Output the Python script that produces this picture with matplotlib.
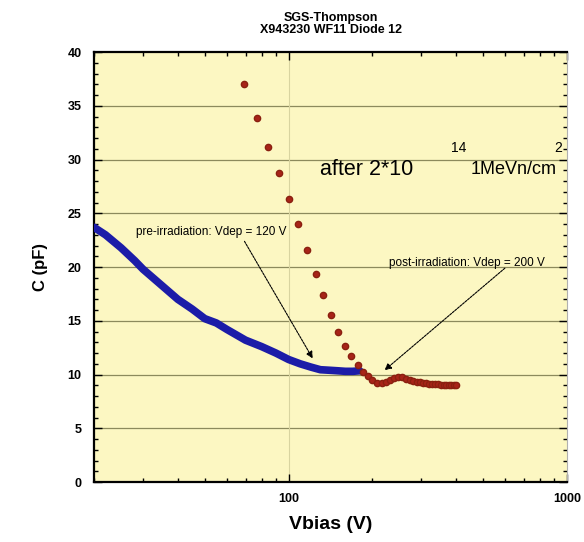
import matplotlib.pyplot as plt
from matplotlib.ticker import MultipleLocator, LogLocator, FixedLocator, NullFormatter

# pre-irradiation (blue), dense scan
pre_v = [20, 22, 25, 28, 30, 35, 40, 45, 50, 55, 60, 70, 80, 90, 100,
         110, 120, 130, 140, 150, 160, 170, 180]
pre_c = [23.7, 23.0, 21.8, 20.6, 19.8, 18.3, 17.0, 16.1, 15.2, 14.8, 14.2,
         13.2, 12.6, 12.0, 11.4, 11.0, 10.7, 10.45, 10.4, 10.35, 10.3, 10.3, 10.35]

# post-irradiation (red), 8 V steps
post_v = [69, 77, 84, 92, 100, 108, 116, 125, 133, 142, 151, 159, 168, 177, 185,
          193, 200, 208, 216, 224, 232, 240, 248, 256, 264, 272, 280, 288, 296,
          304, 312, 320, 328, 336, 344, 352, 360, 368, 376, 384, 392, 400]
post_c = [37.0, 33.9, 31.2, 28.8, 26.3, 24.0, 21.6, 19.4, 17.4, 15.5, 14.0, 12.7,
          11.7, 10.9, 10.2, 9.9, 9.5, 9.25, 9.2, 9.35, 9.5, 9.65, 9.75, 9.75, 9.6,
          9.5, 9.4, 9.35, 9.3, 9.25, 9.2, 9.15, 9.15, 9.1, 9.1, 9.05, 9.05, 9.0,
          9.0, 9.0, 9.0, 9.0]

y_ticks = [0, 5, 10, 15, 20, 25, 30, 35, 40]
x_labels = [100, 1000]

plt.rcParams['font.family'] = ['Liberation Sans', 'DejaVu Sans']

fig = plt.figure(figsize=(5.84, 5.42), dpi=100)
ax = fig.add_axes([0.161, 0.1107, 0.81, 0.793])
ax.set_facecolor('#fcf7c2')

ax.set_xscale('log')
ax.set_xlim(20, 1000)
ax.set_ylim(0, 40)

# grid
for y in y_ticks[1:-1]:
    ax.axhline(y, color='#8c8a5c', lw=0.9, zorder=1)
ax.axvline(100, color='#d8d4a0', lw=0.8, zorder=1)

ax.plot(pre_v, pre_c, color='#1c1ca8', lw=5.5, solid_capstyle='round', zorder=3)
ax.plot(post_v, post_c, 'o', color='#a82418', ms=4.5, mec='#8a2010', zorder=4)

ax.text(0.478, 0.726, 'after 2*10', transform=ax.transAxes, fontsize=15.5,
        va='center', ha='left')
ax.text(0.755, 0.776, '14', transform=ax.transAxes, fontsize=10,
        va='center', ha='left')
ax.text(0.797, 0.726, '1MeVn/cm', transform=ax.transAxes, fontsize=13,
        va='center', ha='left')
ax.text(0.973, 0.776, '2', transform=ax.transAxes, fontsize=10,
        va='center', ha='left')

arrow = dict(arrowstyle='-|>', color='black', lw=0.8,
             linestyle=(0, (2, 1)), shrinkA=0, shrinkB=0)
ax.text(52.8, 23.3, 'pre-irradiation: Vdep = 120 V', fontsize=8.5,
        ha='center', va='center', zorder=5)
ax.annotate('', xy=(122, 11.5), xytext=(69.4, 22.4), arrowprops=arrow, zorder=5)
ax.text(438, 20.4, 'post-irradiation: Vdep = 200 V', fontsize=8.5,
        ha='center', va='center', zorder=5)
ax.annotate('', xy=(221, 10.4), xytext=(598, 19.9), arrowprops=arrow, zorder=5)

ax.yaxis.set_major_locator(FixedLocator(y_ticks))
ax.yaxis.set_minor_locator(MultipleLocator(1))
ax.xaxis.set_major_locator(FixedLocator(x_labels))
ax.xaxis.set_minor_locator(LogLocator(base=10, subs=range(2, 10)))
ax.xaxis.set_minor_formatter(NullFormatter())
ax.set_xticklabels([str(v) for v in x_labels])

ax.tick_params(which='both', direction='in', top=True, right=True,
               labelsize=9, width=1)
ax.tick_params(which='major', length=6, pad=9)
ax.tick_params(axis='x', which='major', pad=8)
ax.tick_params(which='minor', length=3)
for lab in ax.get_xticklabels() + ax.get_yticklabels():
    lab.set_fontweight('bold')

for s in ['top', 'left', 'bottom']:
    ax.spines[s].set_linewidth(1.6)
ax.spines['right'].set_color('#b0b0b0')
ax.spines['right'].set_linewidth(0.8)

ax.set_xlabel('Vbias (V)', fontsize=14, fontweight='bold', labelpad=8)
ax.set_ylabel('C (pF)', fontsize=12, fontweight='bold', labelpad=14)
ax.set_title('SGS-Thompson\nX943230 WF11 Diode 12', fontsize=9,
             fontweight='bold', pad=14, linespacing=1.0)

fig.savefig('out.png', dpi=100)
